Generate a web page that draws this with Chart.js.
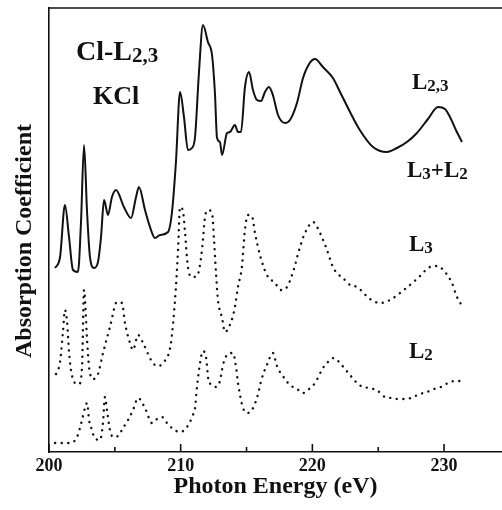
<!DOCTYPE html>
<html>
<head>
<meta charset="utf-8">
<script src="https://cdn.jsdelivr.net/npm/chart.js@4.4.1/dist/chart.umd.min.js"></script>
<style>
  html, body { margin: 0; padding: 0; background: #fff; }
</style>
</head>
<body>
<canvas id="spectrumChart" width="502" height="510"></canvas>
<script>
// tick positions on the energy axis (eV), labels only on the major ones
const xTicks = [200, 205, 210, 215, 220, 225, 230];
const xTickLabels = ['200', '', '210', '', '220', '', '230'];

// L2,3 measured spectrum (solid line)
const l23Energy = [200.46, 200.84, 201.21, 201.52, 201.82, 202.2, 202.43, 202.66, 202.89, 203.11,
  203.42, 203.72, 203.95, 204.18, 204.48, 204.78, 205.09, 205.69, 206.23, 206.61,
  206.83, 207.29, 207.67, 208.05, 208.43, 209.04, 209.34, 209.64, 209.95, 210.25,
  210.55, 210.86, 211.09, 211.39, 211.69, 212.07, 212.38, 212.6, 212.76, 212.98,
  213.14, 213.52, 213.74, 214.12, 214.35, 214.58, 214.88, 215.19, 215.49, 215.79,
  216.1, 216.4, 216.7, 217.0, 217.39, 217.92, 218.3, 218.83, 219.29, 219.75,
  220.2, 220.8, 221.56, 222.1, 222.86, 223.6, 224.6, 225.66, 226.42, 227.18,
  227.94, 228.78, 229.54, 230.07, 230.45, 230.9, 231.36];
const l23Values = [184, 195, 247, 215, 182, 180, 230, 307, 240, 195,
  184, 190, 215, 252, 237, 255, 262, 245, 234, 255,
  265, 242, 225, 214, 217, 220, 240, 290, 360, 335,
  302, 304, 315, 380, 427, 410, 397, 359, 314, 310,
  297, 319, 320, 327, 320, 320, 365, 380, 362, 352,
  351, 360, 365, 357, 337, 329, 332, 349, 374, 388,
  393, 385, 374, 360, 340, 322, 305, 300, 304, 310,
  319, 333, 345, 343, 335, 322, 310];

// L3 component (dotted)
const l3Energy = [200.53, 200.84, 201.06, 201.21, 201.37, 201.52, 201.67, 201.97, 202.28, 202.51,
  202.66, 202.89, 203.04, 203.34, 203.72, 204.1, 204.63, 205.16, 205.54, 205.77,
  206.15, 206.38, 206.76, 207.14, 207.75, 208.2, 208.66, 209.26, 209.57, 209.8,
  209.95, 210.17, 210.33, 210.55, 210.86, 211.24, 211.62, 211.85, 212.07, 212.38,
  212.53, 212.68, 212.83, 213.14, 213.36, 213.74, 214.12, 214.35, 214.65, 214.88,
  215.11, 215.41, 215.64, 216.02, 216.55, 217.16, 217.62, 218.07, 218.53, 219.06,
  219.44, 220.05, 220.58, 221.11, 221.56, 221.94, 222.32, 222.86, 223.39, 224.37,
  225.13, 225.89, 227.03, 228.02, 228.93, 229.46, 230.07, 230.6, 230.98, 231.28];
const l3Values = [78, 90, 120, 142, 130, 100, 82, 69, 68, 85,
  162, 112, 85, 73, 78, 99, 125, 150, 149, 129,
  109, 102, 117, 109, 92, 86, 89, 109, 152, 202,
  245, 241, 219, 185, 175, 176, 202, 235, 242, 239,
  212, 179, 152, 134, 120, 127, 145, 165, 185, 222,
  237, 236, 219, 197, 177, 169, 162, 165, 180, 205,
  219, 230, 219, 202, 185, 178, 174, 167, 165, 153,
  149, 152, 163, 174, 185, 186, 180, 169, 155, 148];

// L2 component (dotted)
const l2Energy = [200.46, 201.06, 201.59, 202.13, 202.51, 202.73, 202.89, 203.04, 203.27, 203.42,
  203.87, 204.1, 204.25, 204.4, 204.63, 204.86, 205.24, 205.62, 206.0, 206.38,
  206.76, 207.29, 207.82, 208.2, 208.58, 208.96, 209.42, 209.95, 210.48, 210.93,
  211.09, 211.24, 211.47, 211.69, 211.92, 212.15, 212.38, 212.68, 212.98, 213.21,
  213.52, 213.97, 214.2, 214.35, 214.58, 214.73, 215.03, 215.41, 215.79, 216.17,
  216.55, 217.0, 217.31, 217.92, 218.3, 218.83, 219.29, 219.75, 220.2, 220.8,
  221.11, 221.64, 222.1, 222.48, 222.86, 223.39, 223.85, 224.37, 224.98, 225.51,
  226.05, 226.5, 227.18, 227.64, 228.17, 228.7, 229.24, 229.77, 230.3, 230.83, 231.36];
const l2Values = [9, 9, 9, 15, 32, 44, 49, 32, 22, 15,
  12, 29, 55, 42, 22, 15, 16, 24, 32, 42,
  54, 44, 29, 33, 35, 29, 23, 20, 25, 37,
  44, 65, 89, 101, 95, 69, 68, 65, 71, 87,
  97, 99, 85, 69, 52, 44, 39, 42, 54, 74,
  87, 99, 86, 73, 67, 63, 59, 63, 69, 84,
  89, 94, 89, 83, 77, 69, 65, 64, 61, 55,
  54, 53, 53, 55, 58, 60, 63, 65, 69, 71, 71];

const serif = '"Liberation Serif", "Times New Roman", serif';
const ink = '#111';

function toPoints(xs, ys) {
    return xs.map((x, i) => ({ x: x, y: ys[i] }));
}

// draws "L" + smaller index, e.g. L2,3
function drawLabel(ctx, parts, x, y, size) {
    let cx = x;
    parts.forEach(([txt, sub]) => {
        ctx.font = 'bold ' + (sub ? Math.round(size * 0.75) : size) + 'px ' + serif;
        ctx.fillText(txt, cx, sub ? y + 2 : y);
        cx += ctx.measureText(txt).width;
    });
}

const frameAndLabels = {
    id: 'frameAndLabels',
    afterDraw(chart) {
        const ctx = chart.ctx;
        const area = chart.chartArea;
        const xScale = chart.scales.x;
        ctx.save();
        ctx.strokeStyle = ink;
        ctx.lineWidth = 1.6;
        ctx.beginPath();
        ctx.moveTo(area.left, area.top);
        ctx.lineTo(chart.width, area.top);
        ctx.stroke();

        // tick marks point into the plot
        xTicks.forEach((v, i) => {
            const px = xScale.getPixelForValue(v);
            const len = xTickLabels[i] ? 8 : 5;
            ctx.beginPath();
            ctx.moveTo(px, area.bottom);
            ctx.lineTo(px, area.bottom - len);
            ctx.stroke();
        });

        ctx.fillStyle = ink;
        ctx.textAlign = 'left';
        ctx.textBaseline = 'alphabetic';
        drawLabel(ctx, [['Cl-L', 0], ['2,3', 1]], 76, 60, 28);
        drawLabel(ctx, [['KCl', 0]], 93, 104, 26);
        drawLabel(ctx, [['L', 0], ['2,3', 1]], 412, 89, 23);
        drawLabel(ctx, [['L', 0], ['3', 1], ['+L', 0], ['2', 1]], 407, 177, 23);
        drawLabel(ctx, [['L', 0], ['3', 1]], 409, 251, 23);
        drawLabel(ctx, [['L', 0], ['2', 1]], 409, 358, 23);

        ctx.translate(25, 241);
        ctx.rotate(-Math.PI / 2);
        ctx.textAlign = 'center';
        ctx.textBaseline = 'middle';
        ctx.font = 'bold 24px ' + serif;
        ctx.fillText('Absorption Coefficient', 0, 0);
        ctx.restore();
    }
};

const dotted = {
    borderColor: ink,
    borderWidth: 2.4,
    borderDash: [0.1, 6.5],
    borderCapStyle: 'round',
    pointRadius: 0,
    cubicInterpolationMode: 'monotone',
    fill: false
};

new Chart(document.getElementById('spectrumChart'), {
    type: 'line',
    data: {
        datasets: [
            {
                label: 'L2,3',
                data: toPoints(l23Energy, l23Values),
                borderColor: ink,
                borderWidth: 2,
                pointRadius: 0,
                cubicInterpolationMode: 'monotone',
                fill: false
            },
            Object.assign({ label: 'L3', data: toPoints(l3Energy, l3Values) }, dotted),
            Object.assign({ label: 'L2', data: toPoints(l2Energy, l2Values) }, dotted)
        ]
    },
    options: {
        responsive: false,
        animation: false,
        layout: { padding: { top: 8, right: 0, left: 0, bottom: 0 } },
        plugins: {
            legend: { display: false },
            tooltip: { enabled: false }
        },
        scales: {
            x: {
                type: 'linear',
                min: 200,
                max: 234.4,
                afterBuildTicks: scale => { scale.ticks = xTicks.map(v => ({ value: v })); },
                afterFit: scale => { scale.height = 58; },
                grid: { display: false, drawTicks: false },
                border: { display: true, color: ink, width: 1.6 },
                ticks: {
                    padding: 4,
                    color: ink,
                    maxRotation: 0,
                    autoSkip: false,
                    font: { family: serif, size: 18, weight: 'bold' },
                    callback: (value, index) => xTickLabels[index]
                },
                title: {
                    display: true,
                    text: 'Photon Energy (eV)',
                    color: ink,
                    font: { family: serif, size: 24, weight: 'bold' },
                    padding: { top: 0, bottom: 9 }
                }
            },
            y: {
                min: 0,
                max: 444,
                afterFit: scale => { scale.width = 49; },
                grid: { display: false, drawTicks: false },
                border: { display: true, color: ink, width: 1.6 },
                ticks: { display: false }
            }
        }
    },
    plugins: [frameAndLabels]
});
</script>
</body>
</html>
